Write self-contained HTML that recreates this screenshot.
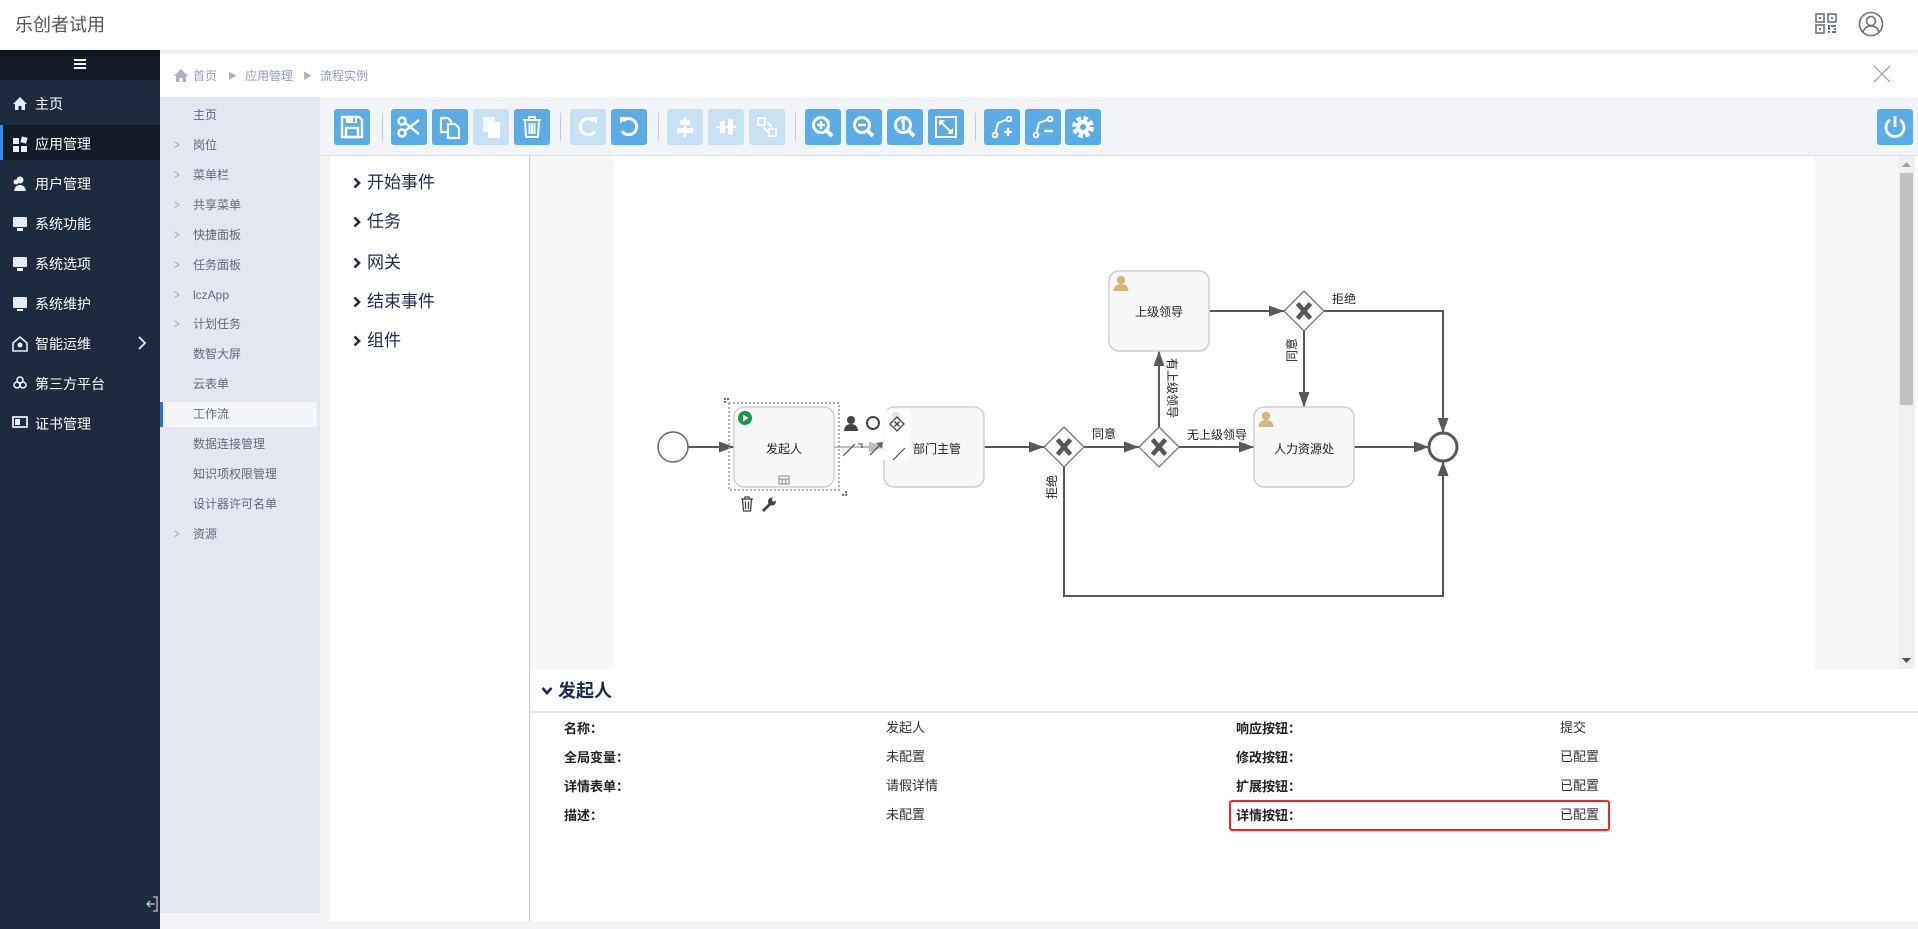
<!DOCTYPE html>
<html><head><meta charset="utf-8">
<style>
*{box-sizing:border-box;margin:0;padding:0}
body{width:1918px;height:929px;overflow:hidden;background:#f3f4f8;position:relative;font-family:"Liberation Sans","Noto Sans CJK SC",sans-serif}
.a{position:absolute}
.t{position:absolute;white-space:nowrap;line-height:20px;height:20px}
.btn{position:absolute;top:109px;width:36px;height:36px;border-radius:3px;background:#5aace6}
.btn.d{background:#c6e0f4}
.btn svg{display:block}
.sep{position:absolute;top:113px;width:1px;height:28px;background:#c9cdd6}
.nav{position:absolute;left:35px;color:#fff;font-size:14px;line-height:20px}
.sm{position:absolute;left:193px;color:#626a7c;font-size:12px;line-height:20px}
.chev{position:absolute;left:173px;color:#9aa0ad;font-size:13px;line-height:20px;transform:scaleX(0.7)}
.el{position:absolute;left:367px;color:#1d2b4a;font-size:17px;line-height:24px}
.elc{position:absolute;left:353px}
.pl{position:absolute;font-size:13px;font-weight:bold;color:#222;line-height:20px}
.pv{position:absolute;font-size:13px;color:#333;line-height:20px}
</style></head><body>

<!-- header -->
<div class="a" style="left:0;top:0;width:1918px;height:50px;background:#fff;box-shadow:0 2px 5px rgba(0,0,0,0.12);z-index:3"></div>
<div class="t" style="left:15px;top:13px;font-size:18px;line-height:24px;height:24px;color:#555;z-index:4">乐创者试用</div>
<svg class="a" style="left:1815px;top:13px;z-index:4" width="24" height="22" viewBox="0 0 24 22">
<g fill="none" stroke="#6b7280" stroke-width="1.6"><rect x="1" y="1" width="8" height="8"/><rect x="13" y="1" width="8" height="8"/><rect x="1" y="12" width="8" height="8"/></g>
<g fill="#6b7280"><rect x="4" y="4" width="2" height="2"/><rect x="16" y="4" width="2" height="2"/><rect x="4" y="15" width="2" height="2"/><rect x="13" y="12" width="2" height="5"/><rect x="13" y="18" width="2" height="2"/><rect x="16" y="12" width="5" height="2"/><rect x="19" y="15" width="2" height="2"/><rect x="17" y="18" width="4" height="2"/></g></svg>
<svg class="a" style="left:1858px;top:11px;z-index:4" width="26" height="26" viewBox="0 0 26 26">
<g fill="none" stroke="#6b7280" stroke-width="1.6"><circle cx="13" cy="13" r="11.5"/><circle cx="13" cy="10" r="4.5"/><path d="M5 21 Q7 15 13 15 Q19 15 21 21"/></g></svg>

<!-- sidebar -->
<div class="a" style="left:0;top:50px;width:160px;height:879px;background:#1e2b3c"></div>
<div class="a" style="left:0;top:50px;width:160px;height:30px;background:linear-gradient(#0f161f,#151e2a)"></div>
<div class="a" style="left:74px;top:59px;width:12px;height:2px;background:#fff;box-shadow:0 4px 0 #fff,0 8px 0 #fff"></div>
<div class="a" style="left:0;top:125px;width:160px;height:35px;background:#131b27"></div>
<div class="a" style="left:0;top:125px;width:3px;height:35px;background:#2d8cf0"></div>
<svg class="a" style="left:12px;top:96px" width="16" height="340" viewBox="0 0 16 340">
<g fill="#e9edf3">
<path d="M1 8 L8 1 L15 8 L13 8 L13 14 L9.5 14 L9.5 10 L6.5 10 L6.5 14 L3 14 L3 8Z"/>
<rect x="1" y="42" width="6" height="6"/><rect x="9" y="41" width="6" height="6" transform="rotate(15 12 44)"/><rect x="1" y="50" width="6" height="6"/><rect x="9" y="50" width="6" height="6"/>
<circle cx="8" cy="84" r="3.5"/><path d="M2 95 Q3 89 8 89 Q13 89 14 95Z"/><circle cx="4" cy="86" r="2.5"/>
<rect x="1" y="121" width="14" height="10" rx="1"/><rect x="5" y="132" width="6" height="3"/>
<rect x="1" y="161" width="14" height="10" rx="1"/><rect x="5" y="172" width="6" height="3"/>
<rect x="1" y="201" width="14" height="11" rx="1"/><rect x="5" y="213" width="6" height="2"/>
<path d="M1 247 L8 241 L15 247 L15 255 L1 255Z" fill="none" stroke="#e9edf3" stroke-width="1.6"/><circle cx="8" cy="249" r="2.5"/>
<circle cx="5" cy="289" r="3" fill="none" stroke="#e9edf3" stroke-width="1.6"/><circle cx="11" cy="289" r="3" fill="none" stroke="#e9edf3" stroke-width="1.6"/><circle cx="8" cy="284" r="3" fill="none" stroke="#e9edf3" stroke-width="1.6"/>
<rect x="1" y="321" width="14" height="10" fill="none" stroke="#e9edf3" stroke-width="1.8"/><rect x="3" y="323" width="5" height="6"/>
</g></svg>
<div class="nav" style="top:94px">主页</div>
<div class="nav" style="top:134px">应用管理</div>
<div class="nav" style="top:174px">用户管理</div>
<div class="nav" style="top:214px">系统功能</div>
<div class="nav" style="top:254px">系统选项</div>
<div class="nav" style="top:294px">系统维护</div>
<div class="nav" style="top:334px">智能运维</div>
<div class="nav" style="top:374px">第三方平台</div>
<div class="nav" style="top:414px">证书管理</div>
<svg class="a" style="left:137px;top:336px" width="10" height="14" viewBox="0 0 10 14"><path d="M2 1 L8 7 L2 13" fill="none" stroke="#e9edf3" stroke-width="1.8"/></svg>
<svg class="a" style="left:145px;top:896px" width="14" height="16" viewBox="0 0 14 16"><g fill="none" stroke="#c0c4cc" stroke-width="1.3"><path d="M8 1 H12 V15 H8"/><path d="M10 8 H2 M5 5 L2 8 L5 11"/></g></svg>

<!-- breadcrumb -->
<div class="a" style="left:160px;top:50px;width:1758px;height:47px;background:#fff"></div>
<svg class="a" style="left:174px;top:69px" width="14" height="13" viewBox="0 0 14 13"><path d="M0 7 L7 0 L14 7 L12 7 L12 13 L8.5 13 L8.5 9 L5.5 9 L5.5 13 L2 13 L2 7Z" fill="#a9b0c8"/></svg>
<div class="t" style="left:193px;top:66px;font-size:12px;color:#959dbb">首页</div>
<div class="t" style="left:228px;top:66px;font-size:9px;color:#a9b0c8">▶</div>
<div class="t" style="left:245px;top:66px;font-size:12px;color:#959dbb">应用管理</div>
<div class="t" style="left:303px;top:66px;font-size:9px;color:#a9b0c8">▶</div>
<div class="t" style="left:320px;top:66px;font-size:12px;color:#959dbb">流程实例</div>
<svg class="a" style="left:1873px;top:65px" width="18" height="18" viewBox="0 0 18 18"><path d="M1 1 L17 17 M17 1 L1 17" stroke="#a3a9c4" stroke-width="1.3"/></svg>

<!-- secondary menu -->
<div class="a" style="left:160px;top:97px;width:160px;height:816px;background:#e4e7f0"></div>
<div class="a" style="left:160px;top:402px;width:157px;height:25px;background:#f4f5f9"></div>
<div class="a" style="left:160px;top:402px;width:3px;height:25px;background:#1677e6"></div>
<div class="sm" style="top:105px">主页</div>
<div class="chev" style="top:135px">&gt;</div><div class="sm" style="top:135px">岗位</div>
<div class="chev" style="top:165px">&gt;</div><div class="sm" style="top:165px">菜单栏</div>
<div class="chev" style="top:195px">&gt;</div><div class="sm" style="top:195px">共享菜单</div>
<div class="chev" style="top:225px">&gt;</div><div class="sm" style="top:225px">快捷面板</div>
<div class="chev" style="top:255px">&gt;</div><div class="sm" style="top:255px">任务面板</div>
<div class="chev" style="top:285px">&gt;</div><div class="sm" style="top:285px">lczApp</div>
<div class="chev" style="top:314px">&gt;</div><div class="sm" style="top:314px">计划任务</div>
<div class="sm" style="top:344px">数智大屏</div>
<div class="sm" style="top:374px">云表单</div>
<div class="sm" style="top:404px">工作流</div>
<div class="sm" style="top:434px">数据连接管理</div>
<div class="sm" style="top:464px">知识项权限管理</div>
<div class="sm" style="top:494px">设计器许可名单</div>
<div class="chev" style="top:524px">&gt;</div><div class="sm" style="top:524px">资源</div>

<!-- toolbar -->
<div class="a" style="left:320px;top:97px;width:1598px;height:59px;background:#f3f4f8;border-bottom:1px solid #dfe3ec"></div>
<div class="btn" style="left:334px"><svg width="36" height="36" viewBox="0 0 36 36"><g fill="none" stroke="#fff" stroke-width="2.4"><path d="M8 8 H25 L28 11 V28 H8Z"/><rect x="12" y="19" width="12" height="9"/></g><rect x="12" y="8" width="11" height="6" fill="#fff"/><rect x="19" y="9" width="2" height="4" fill="#5aace6"/></svg></div>
<div class="sep" style="left:382px"></div>
<div class="btn" style="left:391px"><svg width="36" height="36" viewBox="0 0 36 36"><g fill="none" stroke="#fff" stroke-width="2.5"><circle cx="11" cy="12" r="3.5"/><circle cx="11" cy="24" r="3.5"/><path d="M14 14 L28 25 M14 22 L28 11"/></g></svg></div>
<div class="btn" style="left:432px"><svg width="36" height="36" viewBox="0 0 36 36"><g fill="none" stroke="#fff" stroke-width="2.2"><path d="M9 9 H16 L19 12 V23 H9Z"/><path d="M16 15 H23 L27 19 V29 H16Z" fill="#5aace6"/></g></svg></div>
<div class="btn d" style="left:473px"><svg width="36" height="36" viewBox="0 0 36 36"><g fill="#fff"><rect x="10" y="8" width="12" height="15" opacity="0.8"/><rect x="15" y="13" width="12" height="16"/></g></svg></div>
<div class="btn" style="left:514px"><svg width="36" height="36" viewBox="0 0 36 36"><g fill="none" stroke="#fff" stroke-width="2"><path d="M9 11 H27 M15 11 V8 H21 V11"/><path d="M11 11 L12 28 H24 L25 11"/><path d="M15.5 14 V25 M18 14 V25 M20.5 14 V25"/></g></svg></div>
<div class="sep" style="left:560px"></div>
<div class="btn d" style="left:570px"><svg width="36" height="36" viewBox="0 0 36 36"><g fill="none" stroke="#fff" stroke-width="3"><path d="M24 12 A8 8 0 1 0 25 22"/></g><path d="M20 8 L27 8 L27 15Z" fill="#fff"/></svg></div>
<div class="btn" style="left:611px"><svg width="36" height="36" viewBox="0 0 36 36"><g fill="none" stroke="#fff" stroke-width="3"><path d="M12 12 A8 8 0 1 1 11 22"/></g><path d="M16 8 L9 8 L9 15Z" fill="#fff"/></svg></div>
<div class="sep" style="left:658px"></div>
<div class="btn d" style="left:667px"><svg width="36" height="36" viewBox="0 0 36 36"><g fill="#fff"><rect x="17" y="8" width="2" height="20"/><rect x="13" y="11" width="10" height="5" rx="1"/><rect x="10" y="19" width="16" height="5" rx="1"/></g></svg></div>
<div class="btn d" style="left:708px"><svg width="36" height="36" viewBox="0 0 36 36"><g fill="#fff"><rect x="8" y="17" width="20" height="2"/><rect x="12" y="12" width="5" height="12" rx="1"/><rect x="20" y="10" width="5" height="16" rx="1"/></g></svg></div>
<div class="btn d" style="left:749px"><svg width="36" height="36" viewBox="0 0 36 36"><g fill="none" stroke="#fff" stroke-width="1.6"><rect x="9" y="9" width="7" height="7"/><rect x="20" y="20" width="7" height="7"/><path d="M14 18 L19 23 M18 13 L23 18"/></g></svg></div>
<div class="sep" style="left:795px"></div>
<div class="btn" style="left:805px"><svg width="36" height="36" viewBox="0 0 36 36"><g fill="none" stroke="#fff"><circle cx="16" cy="16" r="7.5" stroke-width="3"/><path d="M21.5 21.5 L27 27" stroke-width="4"/><path d="M12 16 H20 M16 12 V20" stroke-width="2.5"/></g></svg></div>
<div class="btn" style="left:846px"><svg width="36" height="36" viewBox="0 0 36 36"><g fill="none" stroke="#fff"><circle cx="16" cy="16" r="7.5" stroke-width="3"/><path d="M21.5 21.5 L27 27" stroke-width="4"/><path d="M12 16 H20" stroke-width="2.5"/></g></svg></div>
<div class="btn" style="left:887px"><svg width="36" height="36" viewBox="0 0 36 36"><g fill="none" stroke="#fff"><circle cx="16" cy="16" r="7.5" stroke-width="3"/><path d="M21.5 21.5 L27 27" stroke-width="4"/><path d="M14 13 L16.5 11.5 V21" stroke-width="2.5"/></g></svg></div>
<div class="btn" style="left:928px"><svg width="36" height="36" viewBox="0 0 36 36"><g fill="none" stroke="#fff" stroke-width="2"><rect x="8" y="8" width="20" height="20"/><path d="M12 12 L24 24"/></g><path d="M11 11 L17 11 L11 17Z M25 25 L19 25 L25 19Z" fill="#fff"/></svg></div>
<div class="sep" style="left:975px"></div>
<div class="btn" style="left:984px"><svg width="36" height="36" viewBox="0 0 36 36"><g fill="none" stroke="#fff" stroke-width="2"><circle cx="11" cy="26" r="2.3"/><circle cx="25" cy="10" r="2.3"/><path d="M11.5 23.5 L14 14 L23 10.5"/><path d="M20 23 H28 M24 19 V27" stroke-width="2.4"/></g></svg></div>
<div class="btn" style="left:1025px"><svg width="36" height="36" viewBox="0 0 36 36"><g fill="none" stroke="#fff" stroke-width="2"><circle cx="11" cy="26" r="2.3"/><circle cx="25" cy="10" r="2.3"/><path d="M11.5 23.5 L14 14 L23 10.5"/><path d="M19 22 H28" stroke-width="2.4"/></g></svg></div>
<div class="btn" style="left:1065px"><svg width="36" height="36" viewBox="0 0 36 36"><circle cx="18" cy="18" r="8.5" fill="none" stroke="#fff" stroke-width="5" stroke-dasharray="4.2 2.5"/><circle cx="18" cy="18" r="7" fill="#fff"/><circle cx="18" cy="18" r="3" fill="#5aace6"/></svg></div>
<div class="btn" style="left:1877px"><svg width="36" height="36" viewBox="0 0 36 36"><g fill="none" stroke="#fff" stroke-width="2.8"><path d="M13 11 A9 9 0 1 0 23 11"/><path d="M18 7 V18"/></g></svg></div>

<!-- main white panel -->
<div class="a" style="left:330px;top:156px;width:1588px;height:765px;background:#fff"></div>
<div class="a" style="left:529px;top:156px;width:1px;height:765px;background:#c8cbd0"></div>
<div class="a" style="left:530px;top:156px;width:1384px;height:513px;background:#f7f7f7"></div>
<div class="a" style="left:614px;top:156px;width:1200px;height:513px;background:#fff"></div>
<div class="a" style="left:1898px;top:156px;width:17px;height:513px;background:#f0f0f0"></div>
<div class="a" style="left:1900px;top:173px;width:13px;height:232px;background:#c1c1c1"></div>
<svg class="a" style="left:1902px;top:161px" width="9" height="6"><path d="M0 6 L4.5 1 L9 6Z" fill="#a0a0a0"/></svg>
<svg class="a" style="left:1902px;top:658px" width="9" height="6"><path d="M0 0 L4.5 5 L9 0Z" fill="#505050"/></svg>

<!-- element list -->
<svg class="elc" style="top:177px" width="8" height="12" viewBox="0 0 8 12"><path d="M1.5 1.5 L6 6 L1.5 10.5" fill="none" stroke="#1d2b4a" stroke-width="2.6"/></svg>
<svg class="elc" style="top:216px" width="8" height="12" viewBox="0 0 8 12"><path d="M1.5 1.5 L6 6 L1.5 10.5" fill="none" stroke="#1d2b4a" stroke-width="2.6"/></svg>
<svg class="elc" style="top:257px" width="8" height="12" viewBox="0 0 8 12"><path d="M1.5 1.5 L6 6 L1.5 10.5" fill="none" stroke="#1d2b4a" stroke-width="2.6"/></svg>
<svg class="elc" style="top:296px" width="8" height="12" viewBox="0 0 8 12"><path d="M1.5 1.5 L6 6 L1.5 10.5" fill="none" stroke="#1d2b4a" stroke-width="2.6"/></svg>
<svg class="elc" style="top:335px" width="8" height="12" viewBox="0 0 8 12"><path d="M1.5 1.5 L6 6 L1.5 10.5" fill="none" stroke="#1d2b4a" stroke-width="2.6"/></svg>
<div class="el" style="top:171px">开始事件</div>
<div class="el" style="top:210px">任务</div>
<div class="el" style="top:251px">网关</div>
<div class="el" style="top:290px">结束事件</div>
<div class="el" style="top:329px">组件</div>

<!-- diagram -->
<svg class="a" style="left:0;top:0" width="1918" height="929" viewBox="0 0 1918 929" font-family="Liberation Sans, Noto Sans CJK SC, sans-serif">
<defs>
<marker id="ar" markerWidth="15" markerHeight="11" refX="15" refY="5.5" orient="auto" markerUnits="userSpaceOnUse"><path d="M0 0 L15 5.5 L0 11Z" fill="#585858"/></marker>
<marker id="arl" markerWidth="15" markerHeight="11" refX="15" refY="5.5" orient="auto" markerUnits="userSpaceOnUse"><path d="M0 0 L15 5.5 L0 11Z" fill="#bdbdbd"/></marker>
<g id="usr"><circle cx="0" cy="-4" r="4.2" fill="#d3b778"/><path d="M-7.5 7 Q-7 0 0 0 Q7 0 7.5 7Z" fill="#d3b778"/></g>
<g id="gwx"><path d="M-6.5 -7.5 L6.5 7.5 M6.5 -7.5 L-6.5 7.5" stroke="#555" stroke-width="4.5"/></g>
</defs>
<g fill="none" stroke="#585858" stroke-width="2">
<path d="M688 447 H734" marker-end="url(#ar)"/>
<path d="M834 447 H884" stroke="#bdbdbd" marker-end="url(#arl)"/>
<path d="M984 447 H1044" marker-end="url(#ar)"/>
<path d="M1084 447 H1139" marker-end="url(#ar)"/>
<path d="M1159 427 V351" marker-end="url(#ar)"/>
<path d="M1179 447 H1254" marker-end="url(#ar)"/>
<path d="M1209 311 H1284" marker-end="url(#ar)"/>
<path d="M1324 311 H1443 V433" marker-end="url(#ar)"/>
<path d="M1304 331 V407" marker-end="url(#ar)"/>
<path d="M1354 447 H1429" marker-end="url(#ar)"/>
<path d="M1064 467 V596 H1443 V461" marker-end="url(#ar)"/>
</g>
<circle cx="673" cy="447" r="15" fill="#fff" stroke="#666" stroke-width="1.5"/>
<circle cx="1443" cy="447" r="14" fill="#fff" stroke="#585858" stroke-width="3"/>
<g fill="#f8f8f8" stroke="#d0d0d0" stroke-width="1.5">
<rect x="734" y="407" width="100" height="80" rx="10"/>
<rect x="884" y="407" width="100" height="80" rx="10"/>
<rect x="1109" y="271" width="100" height="80" rx="10"/>
<rect x="1254" y="407" width="100" height="80" rx="10"/>
</g>
<g fill="#fff" stroke="#777" stroke-width="1.3">
<path d="M1064 427 L1084 447 L1064 467 L1044 447Z"/>
<path d="M1159 427 L1179 447 L1159 467 L1139 447Z"/>
<path d="M1304 291 L1324 311 L1304 331 L1284 311Z"/>
</g>
<use href="#gwx" x="1064" y="447"/><use href="#gwx" x="1159" y="447"/><use href="#gwx" x="1304" y="311"/>
<use href="#usr" x="1121" y="284"/><use href="#usr" x="1266" y="420"/>
<!-- selection -->
<rect x="729" y="403" width="110" height="87" fill="none" stroke="#999" stroke-width="1.5" stroke-dasharray="2 2"/>
<g fill="#4a78b8"><rect x="724" y="398" width="2" height="2"/><rect x="727" y="398" width="2" height="2"/><rect x="724" y="401" width="2" height="2"/><rect x="842" y="494" width="2" height="2"/><rect x="845" y="494" width="2" height="2"/><rect x="845" y="491" width="2" height="2"/></g>
<circle cx="745" cy="418" r="7" fill="#16994a"/><path d="M743 414.5 L748.5 418 L743 421.5Z" fill="#fff"/>
<g fill="none" stroke="#9a9a9a" stroke-width="1.2"><rect x="779" y="476" width="10" height="8"/><path d="M779 479 H789 M782.3 479 V484 M785.6 479 V484"/></g>
<!-- context pad -->
<rect x="880" y="410" width="30" height="50" fill="#fff" opacity="0.85"/>
<use href="#usr" x="896" y="420" opacity="0.35"/>
<g transform="translate(851 424)" fill="#444"><circle cx="0" cy="-4" r="4"/><path d="M-7 7 Q-6.5 0 0 0 Q6.5 0 7 7Z"/></g>
<circle cx="873" cy="423" r="6" fill="none" stroke="#444" stroke-width="2"/>
<path d="M897 417 L904 424 L897 431 L890 424Z" fill="#fff" stroke="#444" stroke-width="1.3"/>
<path d="M894.5 421.5 L899.5 426.5 M899.5 421.5 L894.5 426.5" stroke="#444" stroke-width="1.5"/>
<path d="M843 456 L855 444 M858 444 H862 V448" fill="none" stroke="#444" stroke-width="1.1"/>
<path d="M870 455 L881 444" stroke="#666" stroke-width="1.5"/><path d="M876 443 L883 442 L882 449Z" fill="#666"/>
<path d="M893 460 L905 448" stroke="#444" stroke-width="1.1"/>
<!-- trash / wrench -->
<g fill="none" stroke="#444" stroke-width="1.3"><path d="M741 499 H753 M745 499 V497 H749 V499 M742.5 499 L743.5 511 H750.5 L751.5 499 M745.5 501.5 V509 M748.5 501.5 V509"/></g>
<path d="M763 511 L770 504" stroke="#444" stroke-width="2.8"/><circle cx="772" cy="501.5" r="4" fill="#444"/><circle cx="774" cy="499.5" r="2" fill="#fff"/>
<!-- labels -->
<g font-size="12" fill="#222" text-anchor="middle" dominant-baseline="central">
<text x="784" y="449">发起人</text>
<text x="937" y="449">部门主管</text>
<text x="1159" y="312">上级领导</text>
<text x="1304" y="449">人力资源处</text>
<text x="1104" y="434">同意</text>
<text x="1217" y="435">无上级领导</text>
<text x="1344" y="299">拒绝</text>
<text transform="translate(1172 388) rotate(90)">有上级领导</text>
<text transform="translate(1292 350) rotate(-90)">同意</text>
<text transform="translate(1052 487) rotate(-90)">拒绝</text>
</g>
</svg>

<!-- property panel -->
<svg class="a" style="left:541px;top:685px" width="12" height="12" viewBox="0 0 12 12"><path d="M1.5 3 L6 8 L10.5 3" fill="none" stroke="#1d2b4a" stroke-width="2.6"/></svg>
<div class="t" style="left:558px;top:679px;font-size:18px;line-height:24px;height:24px;font-weight:bold;color:#1d2b4a">发起人</div>
<div class="a" style="left:530px;top:711px;width:1388px;height:2px;background:#e3e8ef"></div>
<div class="pl" style="left:564px;top:719px">名称：</div>
<div class="pl" style="left:564px;top:748px">全局变量：</div>
<div class="pl" style="left:564px;top:777px">详情表单：</div>
<div class="pl" style="left:564px;top:806px">描述：</div>
<div class="pv" style="left:886px;top:718px">发起人</div>
<div class="pv" style="left:886px;top:747px">未配置</div>
<div class="pv" style="left:886px;top:776px">请假详情</div>
<div class="pv" style="left:886px;top:805px">未配置</div>
<div class="pl" style="left:1236px;top:719px">响应按钮：</div>
<div class="pl" style="left:1236px;top:748px">修改按钮：</div>
<div class="pl" style="left:1236px;top:777px">扩展按钮：</div>
<div class="pl" style="left:1236px;top:806px">详情按钮：</div>
<div class="pv" style="left:1560px;top:718px">提交</div>
<div class="pv" style="left:1560px;top:747px">已配置</div>
<div class="pv" style="left:1560px;top:776px">已配置</div>
<div class="pv" style="left:1560px;top:805px">已配置</div>
<div class="a" style="left:1229px;top:800px;width:381px;height:31px;border:2.5px solid #f5222d;border-radius:3px"></div>

</body></html>
